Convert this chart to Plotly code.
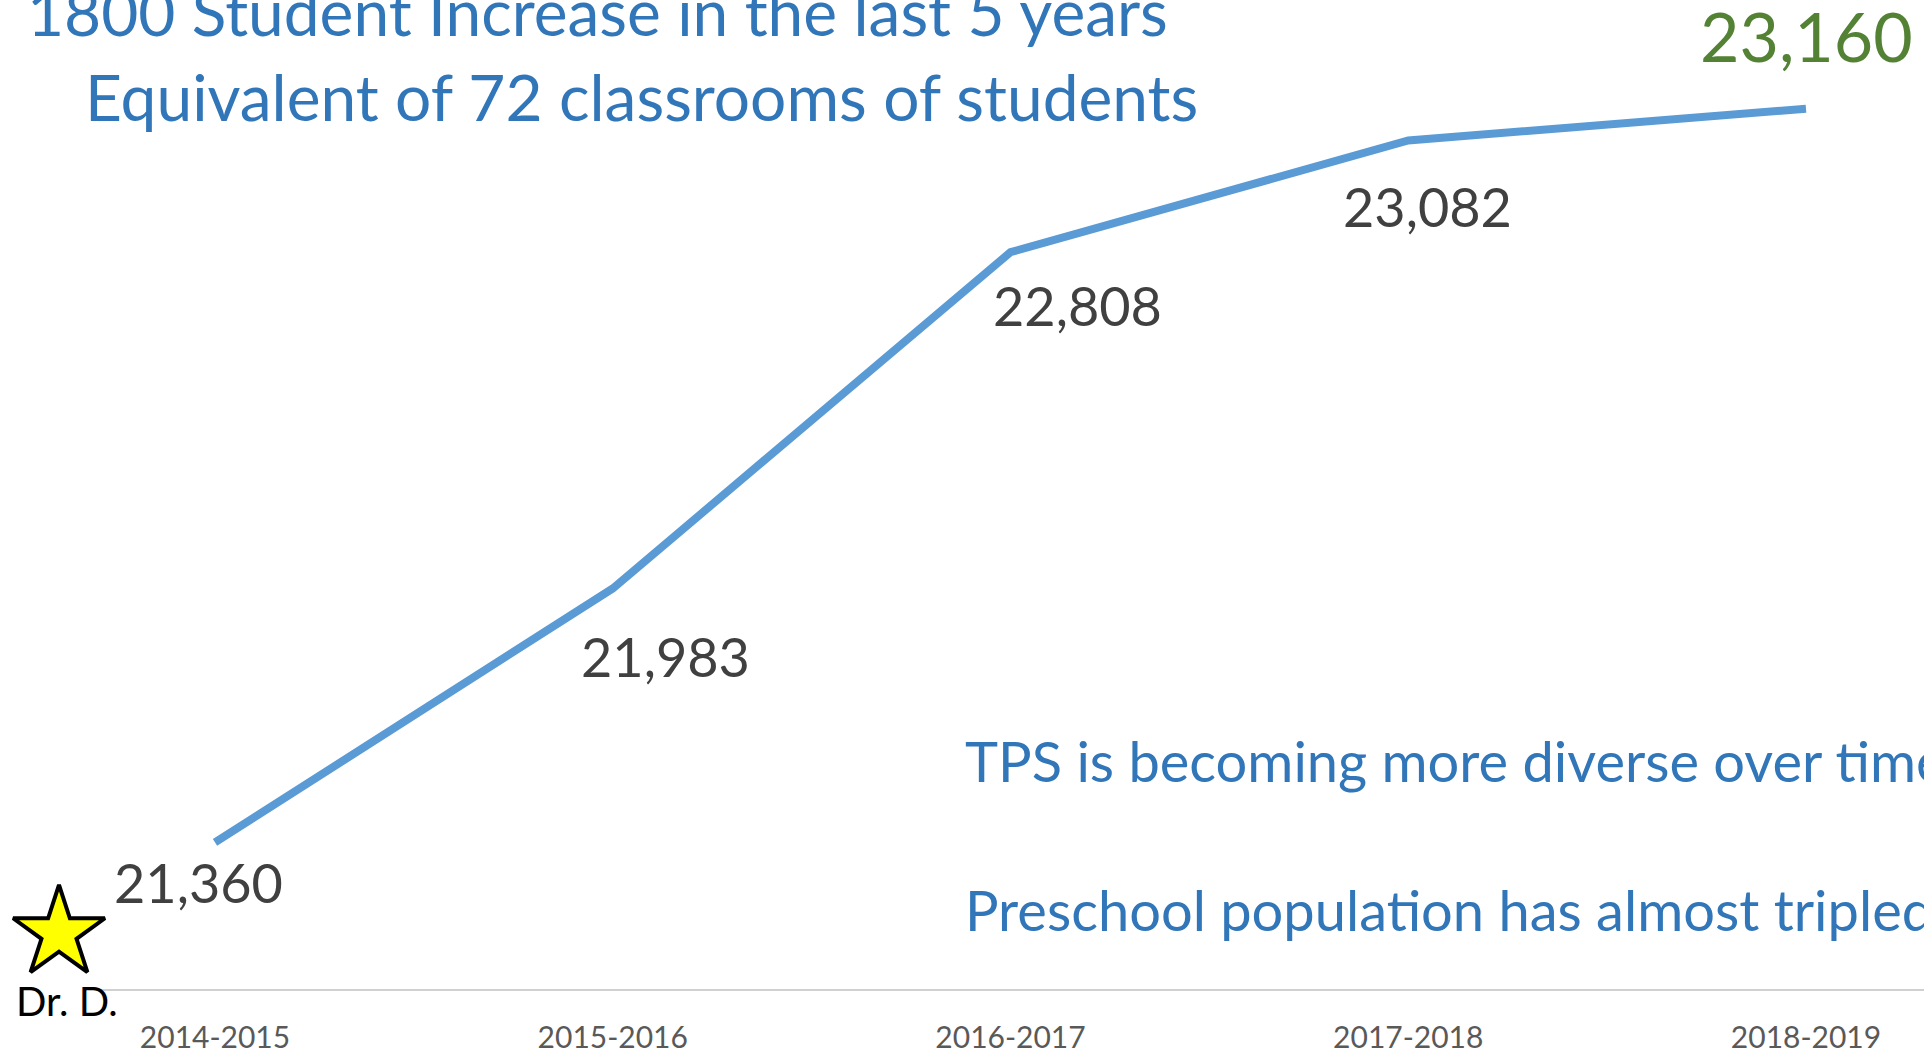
import plotly.graph_objects as go

# ---- data ----
years = ["2014-2015", "2015-2016", "2016-2017", "2017-2018", "2018-2019"]
enrollment = [21360, 21983, 22808, 23082, 23160]
title_lines = ["1800 Student Increase in the last 5 years",
               "Equivalent of 72 classrooms of students"]
notes = ["TPS is becoming more diverse over time",
         "Preschool population has almost tripled"]

# ---- style ----
FONT = "Lato"
BLUE_TXT = "#3176B8"
LINE = "#5B9BD5"
DARK = "#404040"
GREEN = "#548235"

W, H = 1924, 1054
PLOT_H = 992
idx = list(range(len(years)))

# vertical scale: pixel positions of the first and last point
y_first_px, y_last_px = 845, 109
k = (y_first_px - y_last_px) / (enrollment[-1] - enrollment[0])
y_lo = enrollment[0] - (PLOT_H - y_first_px) / k
y_hi = enrollment[0] + y_first_px / k

fig = go.Figure()
fig.add_trace(go.Scatter(
    x=idx, y=enrollment, mode="lines",
    line=dict(color=LINE, width=8),
    hoverinfo="skip", showlegend=False,
))

# star decoration (overlay axes in 0..1 units)
fig.add_trace(go.Scatter(
    x=[59 / W], y=[1 - 936 / PLOT_H], xaxis="x2", yaxis="y2", mode="markers",
    marker=dict(symbol="star", size=69, color="#FFFF00",
                line=dict(color="#000000", width=4)),
    hoverinfo="skip", showlegend=False,
))

# data labels: (xshift, yshift) offsets from each point
offsets = [(-17, -40), (53, -68), (67, -53), (19, -66), (0, 73)]
annotations = []
for i, (v, (dx, dy)) in enumerate(zip(enrollment, offsets)):
    last = i == len(enrollment) - 1
    annotations.append(dict(
        x=i, y=v, xref="x", yref="y", text=f"{v:,}", showarrow=False,
        xanchor="center", yanchor="middle", xshift=dx, yshift=dy,
        font=dict(family=FONT, size=68 if last else 54,
                  color=GREEN if last else DARK),
    ))

# title lines
for txt, xpix, ypix in zip(title_lines, [25, 83], [12, 97]):
    annotations.append(dict(x=xpix / W, y=1 - ypix / PLOT_H, xref="paper", yref="paper",
                            text=txt, showarrow=False,
                            xanchor="left", yanchor="middle",
                            font=dict(family=FONT, size=64, color=BLUE_TXT)))
# notes
for txt, ypix in zip(notes, [763, 912]):
    annotations.append(dict(x=963 / W, y=1 - ypix / PLOT_H, xref="paper", yref="paper",
                            text=txt, showarrow=False,
                            xanchor="left", yanchor="middle",
                            font=dict(family=FONT, size=56, color=BLUE_TXT)))
# Dr. D.
annotations.append(dict(x=14 / W, y=1 - 1004 / PLOT_H, xref="paper", yref="paper",
                        text="Dr. D.", showarrow=False,
                        xanchor="left", yanchor="middle",
                        font=dict(family=FONT, size=40, color="#000000")))

px_per_cat = 397.75
x0_px = 215
left_px = 100
xr = [(left_px - x0_px) / px_per_cat, (W - x0_px) / px_per_cat]

fig.update_layout(
    width=W, height=H,
    margin=dict(l=0, r=0, t=0, b=H - PLOT_H),
    paper_bgcolor="white", plot_bgcolor="rgba(0,0,0,0)",
    showlegend=False,
    xaxis=dict(domain=[left_px / W, 1], range=xr, tickvals=idx, ticktext=years,
               showgrid=False, zeroline=False, showline=True,
               linecolor="#D0D0D0", linewidth=2, ticks="",
               ticklabelstandoff=21,
               tickfont=dict(family=FONT, size=30, color="#595959")),
    yaxis=dict(range=[y_lo, y_hi], visible=False, showgrid=False),
    xaxis2=dict(domain=[0, 1], range=[0, 1], visible=False, anchor="y2"),
    yaxis2=dict(domain=[0, 1], range=[0, 1], visible=False, anchor="x2"),
    annotations=annotations,
)

fig.write_html("out.html", config={"displayModeBar": False},
               post_script="document.body.style.margin='0';")
